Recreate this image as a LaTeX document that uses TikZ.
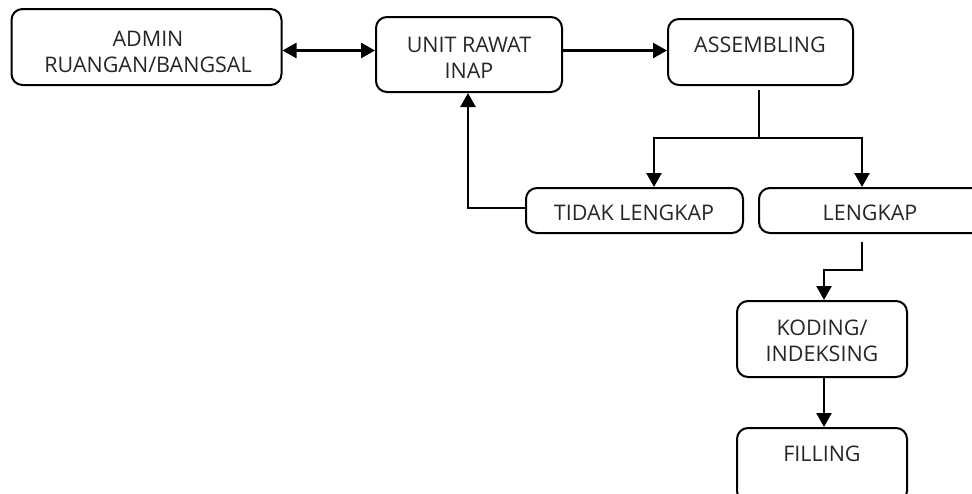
\documentclass[tikz,border=0pt]{standalone}
\usepackage{fontspec}
\setmainfont{Open Sans}
\usetikzlibrary{arrows.meta}
\begin{document}
\begin{tikzpicture}[x=1pt,y=-1pt,
  box/.style={draw,line width=2pt,rounded corners=11pt,inner sep=0pt},
  txt/.style={font=\fontsize{21.5}{26.5}\selectfont,align=center,inner sep=0pt,text=black!85},
  conn/.style={line width=2.5pt},
  arr/.style={conn,-{Triangle[length=14pt,width=15pt]}},
  darr/.style={conn,{Triangle[length=14pt,width=15pt]}-{Triangle[length=14pt,width=15pt]}}]
\useasboundingbox (0,0) rectangle (972,493);
% boxes
\node[box,minimum width=270pt,minimum height=76pt] (admin) at (146.5,47) {};
\node[box,minimum width=186pt,minimum height=75pt] (unit) at (469,54.5) {};
\node[box,minimum width=185pt,minimum height=66pt] (asm) at (760.5,52) {};
\node[box,minimum width=217pt,minimum height=45pt] (tidak) at (634.5,210.5) {};
\node[box,minimum width=226pt,minimum height=45pt] (lengkap) at (872,210.5) {};
\node[box,minimum width=170pt,minimum height=76pt] (koding) at (822,339) {};
\node[box,minimum width=170pt,minimum height=74pt] (filling) at (822,465) {};
% texts
\node[txt] (tadmin) at (148,52) {ADMIN\\RUANGAN/BANGSAL};
\node[txt] (tunit) at (469,58) {UNIT RAWAT\\INAP};
\node[txt] (tasm) at (760,45) {ASSEMBLING};
\node[txt] (ttidak) at (634,213) {TIDAK LENGKAP};
\node[txt] (tlengkap) at (870,213) {LENGKAP};
\node[txt] (tkoding) at (822,341) {KODING/\\INDEKSING};
\node[txt] (tfilling) at (822,454) {FILLING};
% coordinates
\coordinate (asmdown) at (759,90);
\coordinate (split) at (759,138);
\coordinate (lkdown) at (862,242);
\coordinate (lkbend) at (862,270);
% connectors
\draw[darr] (admin.east |- 0,50.5) -- (unit.west |- 0,50.5);
\draw[arr] (unit.east |- 0,50.5) -- (asm.west |- 0,50.5);
\draw[conn] (asmdown) -- (split);
\draw[arr] (split) -| (tidak.north -| 654,0);
\draw[arr] (split) -| (lengkap.north -| 862,0);
\draw[arr] (tidak.west |- 0,208) -| (unit.south -| 468,0);
\draw[arr] (lkdown) -- (lkbend) -| (koding.north -| 824,0);
\draw[arr] (koding.south -| 824,0) -- (filling.north -| 824,0);
\end{tikzpicture}
\end{document}
